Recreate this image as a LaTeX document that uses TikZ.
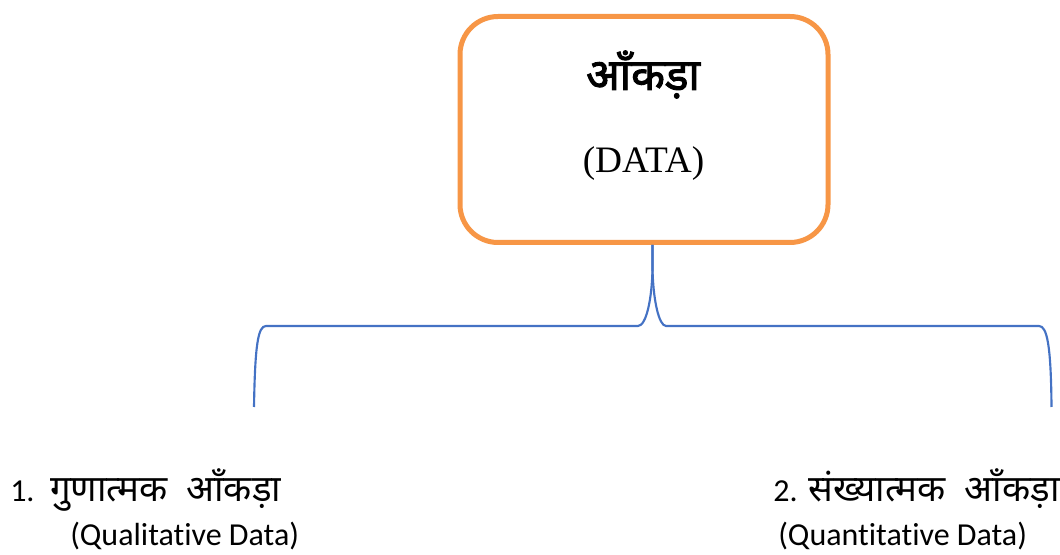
\documentclass[tikz,border=0pt]{standalone}
\usepackage{fontspec}
\setmainfont[Ligatures=CommonOff]{Carlito}
\newfontfamily\deva[Script=Devanagari]{Noto Sans}
\newfontfamily\devab[Script=Devanagari,FakeBold=2.2]{Noto Sans}
\newfontfamily\timesf{Liberation Serif}
\definecolor{boxorange}{HTML}{F79646}
\definecolor{braceblue}{HTML}{4472C4}
\tikzset{
  mainbox/.style={draw=boxorange, line width=3.75pt, rounded corners=28.5pt, fill=white, inner sep=0pt},
  bracestyle/.style={draw=braceblue, line width=1.6pt},
  label/.style={inner sep=0pt, font=\fontsize{24}{29}\selectfont},
  devalabel/.style={inner sep=0pt, font=\deva\fontsize{27.5}{33}\selectfont}
}
\begin{document}
\begin{tikzpicture}[x=0.75pt,y=-0.75pt]
\useasboundingbox (0,0) rectangle (1060,555);
\node[mainbox, minimum width=276pt, minimum height=169.5pt] (box) at (644,129.5) {};
\node[inner sep=0pt, anchor=base, font=\devab\fontsize{33}{40}\selectfont] (title) at (643,90) {आँकड़ा};
\node[inner sep=0pt, anchor=base, font=\timesf\fontsize{28}{34}\selectfont] (sub) at (643.5,173) {(DATA)};
\coordinate (stem) at (652.5,245);
\coordinate (lend) at (254,407);
\coordinate (rend) at (1051.5,407);
\draw[bracestyle] (lend) .. controls (255,345) and (258,326) .. (266,326) -- (638,326)
   .. controls (646,326) and (652,300) .. (652.5,268) -- (stem);
\draw[bracestyle] (stem) -- (652.5,268) .. controls (653,300) and (659,326) .. (666,326)
   -- (1039,326) .. controls (1047,326) and (1051,345) .. (rend);
\node[label, anchor=base west] (n1) at (10,502) {1.};
\node[devalabel, anchor=base west] (d1) at (50,502) {गुणात्मक\ \ आँकड़ा};
\node[label, anchor=base west] (e1) at (70,546) {(Qualitative Data)};
\node[label, anchor=base west] (n2) at (773,502) {2.};
\node[devalabel, anchor=base west] (d2) at (808,502) {संख्यात्मक\ \ आँकड़ा};
\node[label, anchor=base west] (e2) at (778,546) {(Quantitative Data)};
\end{tikzpicture}
\end{document}
